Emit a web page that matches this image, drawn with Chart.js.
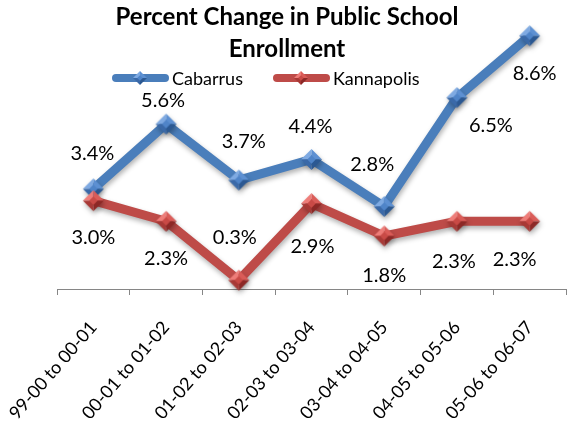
<!DOCTYPE html>
<html>
<head>
<meta charset="utf-8">
<script src="https://cdn.jsdelivr.net/npm/chart.js@4.4.1/dist/chart.umd.min.js"></script>
<style>
    html, body { margin: 0; padding: 0; background: #fff; overflow: hidden; }
</style>
</head>
<body>
<canvas id="enrollChart" width="585" height="429"></canvas>
<script>
// Chart values
const periods = ['99-00 to 00-01', '00-01 to 01-02', '01-02 to 02-03', '02-03 to 03-04',
    '03-04 to 04-05', '04-05 to 05-06', '05-06 to 06-07'];
const cabarrusPct = [3.4, 5.6, 3.7, 4.4, 2.8, 6.5, 8.6];
const kannapolisPct = [3.0, 2.3, 0.3, 2.9, 1.8, 2.3, 2.3];
const seriesNames = ['Cabarrus', 'Kannapolis'];
const titleLines = ['Percent Change in Public School', 'Enrollment'];

/* Makes a bevelled diamond marker like the Excel 2007 one
*/
const makeMarker = (shades, r) => {
    const c = document.createElement('canvas');
    const s = Math.ceil(r * 2) + 2;
    c.width = s;
    c.height = s;
    const g = c.getContext('2d');
    const m = s / 2;
    const T = [m, m - r], R = [m + r, m], B = [m, m + r], L = [m - r, m];
    const facet = (a, b, col) => {
        g.beginPath();
        g.moveTo(a[0], a[1]);
        g.lineTo(b[0], b[1]);
        g.lineTo(m, m);
        g.closePath();
        g.fillStyle = col;
        g.fill();
    };
    facet(L, T, shades[0]);
    facet(T, R, shades[1]);
    facet(R, B, shades[2]);
    facet(B, L, shades[3]);
    // flat top of the pyramid
    const k = r * 0.4;
    g.beginPath();
    g.moveTo(m, m - k);
    g.lineTo(m + k, m);
    g.lineTo(m, m + k);
    g.lineTo(m - k, m);
    g.closePath();
    g.fillStyle = shades[4];
    g.fill();
    return c;
};

const blueShades = ['#7faae2', '#5d90d2', '#2b5892', '#3a69a8', '#4f84c8'];
const redShades = ['#ee7d79', '#da5c58', '#8c2826', '#a83936', '#c94a46'];
const blueMark = makeMarker(blueShades, 10.5);
const redMark = makeMarker(redShades, 10.5);
const blueKey = makeMarker(blueShades, 7);
const redKey = makeMarker(redShades, 7);

// where each value label sits, relative to its point
const labelShift = [
    [[-1, -35], [-3, -24], [5, -39], [-1, -33], [-12, -42], [34, 28], [5, 38]],
    [[0, 37], [0, 37], [-4, -43], [1, 43], [0, 40], [-3, 40], [-15, 38]]
];

// soft shadow under the lines
const lineShadow = {
    id: 'lineShadow',
    beforeDatasetDraw(chart) {
        const c = chart.ctx;
        c.save();
        c.shadowColor = 'rgba(0,0,0,0.3)';
        c.shadowBlur = 5;
        c.shadowOffsetX = 1;
        c.shadowOffsetY = 3;
    },
    afterDatasetDraw(chart) {
        chart.ctx.restore();
    }
};

// value labels
const pctLabels = {
    id: 'pctLabels',
    afterDatasetsDraw(chart) {
        const ctx = chart.ctx;
        ctx.save();
        ctx.font = '20px Lato';
        ctx.fillStyle = '#000';
        ctx.textAlign = 'center';
        ctx.textBaseline = 'middle';
        chart.data.datasets.forEach((ds, i) => {
            chart.getDatasetMeta(i).data.forEach((pt, j) => {
                const s = labelShift[i][j];
                ctx.fillText(ds.data[j].toFixed(1) + '%', pt.x + s[0], pt.y + s[1]);
            });
        });
        ctx.restore();
    }
};

// title and legend, drawn over the top of the plot
const header = {
    id: 'header',
    afterDraw(chart) {
        const ctx = chart.ctx;
        ctx.save();
        ctx.fillStyle = '#000';
        ctx.textAlign = 'center';
        ctx.textBaseline = 'alphabetic';
        ctx.font = 'bold 24px Lato';
        ctx.fillText(titleLines[0], 287, 25);
        ctx.fillText(titleLines[1], 287, 57);

        const keys = [[112, blueKey], [273, redKey]];
        ctx.font = '18px Lato';
        ctx.textAlign = 'left';
        ctx.textBaseline = 'middle';
        chart.data.datasets.forEach((ds, i) => {
            const x = keys[i][0];
            const y = 78;
            ctx.beginPath();
            ctx.moveTo(x + 4, y);
            ctx.lineTo(x + 53, y);
            ctx.lineWidth = 8;
            ctx.lineCap = 'round';
            ctx.strokeStyle = ds.borderColor;
            ctx.stroke();
            const img = keys[i][1];
            ctx.drawImage(img, x + 28 - img.width / 2, y - img.height / 2);
            ctx.fillStyle = '#000';
            ctx.fillText(ds.label, x + 60, y + 1);
        });
        ctx.restore();
    }
};

const buildEnrollChart = () => {

    const data = {
        labels: periods,
        datasets: [{
            label: seriesNames[0],
            data: cabarrusPct,
            borderColor: '#4a7ebb',
            borderWidth: 9,
            borderJoinStyle: 'round',
            pointStyle: blueMark,
            pointRadius: 10,
            clip: false,
            order: 1
        }, {
            label: seriesNames[1],
            data: kannapolisPct,
            borderColor: '#be4b48',
            borderWidth: 9,
            borderJoinStyle: 'round',
            pointStyle: redMark,
            pointRadius: 10,
            clip: false,
            order: 0
        }]
    };

    const config = {
        type: 'line',
        data: data,
        options: {
            responsive: false,
            animation: false,
            layout: { padding: { left: 57, right: 5, top: 24, bottom: 0 } },
            plugins: {
                legend: { display: false },
                title: { display: false },
                tooltip: { enabled: false }
            },
            scales: {
                x: {
                    offset: true,
                    grid: {
                        offset: true,
                        drawOnChartArea: false,
                        tickLength: 6,
                        color: '#868686'
                    },
                    border: { display: true, color: '#868686', width: 1 },
                    ticks: {
                        autoSkip: false,
                        minRotation: 49,
                        maxRotation: 49,
                        padding: 22,
                        color: '#000',
                        font: { family: 'Lato', size: 18 }
                    },
                    afterFit(scale) {
                        scale.height = 140;
                        scale.paddingLeft = 0;
                        scale.paddingRight = 0;
                    }
                },
                y: { display: false, min: 0, max: 9 }
            }
        },
        plugins: [lineShadow, pctLabels, header]
    };

    const ctx = document.getElementById('enrollChart').getContext('2d');
    const enrollChart = new Chart(ctx, config);
}

buildEnrollChart();
</script>
</body>
</html>
